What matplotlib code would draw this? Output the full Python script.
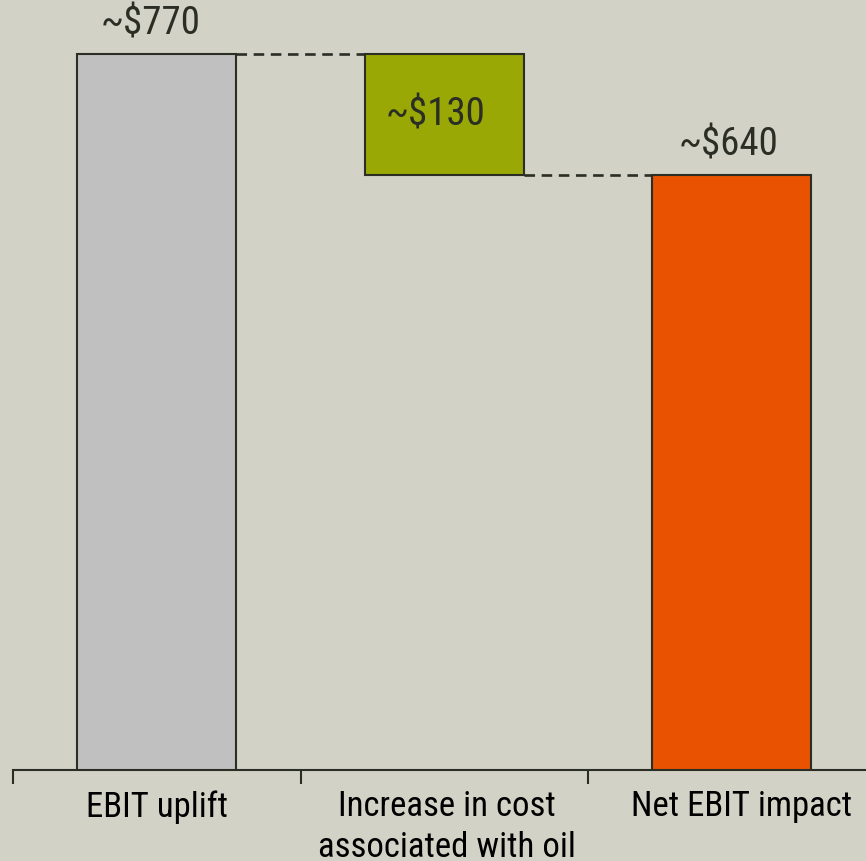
import matplotlib
matplotlib.use("Agg")
import matplotlib.pyplot as plt
import numpy as np

categories = ["EBIT uplift", "Increase in cost\nassociated with oil", "Net EBIT impact"]
values = [770, -130, 640]
value_labels = ["~$770", "~$130", "~$640"]
bar_colors = ["#c0c0c0", "#99a805", "#e85200"]

bg = "#d2d2c6"
dark = "#2b2e24"

plt.rcParams["font.family"] = ["Roboto Condensed", "DejaVu Sans"]

fig = plt.figure(figsize=(8.66, 8.62), dpi=100, facecolor=bg)
ax = fig.add_axes([13 / 866, 91 / 862, 862.5 / 866, 744 / 862])
ax.set_facecolor(bg)

# waterfall: first and last bars start at zero, the middle one hangs from the first
x = np.arange(len(categories))
bottoms = [0, values[0] + values[1], 0]
heights = [values[0], -values[1], values[2]]
width = 0.553
ax.bar(x, heights, width, bottom=bottoms, color=bar_colors,
       edgecolor=dark, linewidth=1.5, zorder=3)

# dashed connectors between bar tops
ax.plot([x[0] + width / 2, x[1] - width / 2], [values[0], values[0]],
        ls=(0, (4, 2.5)), color=dark, lw=1.9, zorder=2)
ax.plot([x[1] + width / 2, x[2] - width / 2], [values[2], values[2]],
        ls=(0, (4, 2.5)), color=dark, lw=1.9, zorder=2)

# value labels
lbl = dict(fontsize=28, color=dark)
ax.text(x[0] - 0.02, values[0] + 13, value_labels[0], ha="center", va="bottom", **lbl)
ax.text(x[1] - 0.03, bottoms[1] + heights[1] / 2, value_labels[1], ha="center",
        va="center", **lbl)
ax.text(x[2] - 0.01, values[2] + 13, value_labels[2], ha="center", va="bottom", **lbl)

ax.set_xlim(-0.5, 2.5)
ax.set_ylim(0, 800)

for s in ["top", "right", "left"]:
    ax.spines[s].set_visible(False)
ax.spines["bottom"].set_color(dark)
ax.spines["bottom"].set_linewidth(1.5)
ax.set_yticks([])

# tick marks at category boundaries, labels at centres
ax.set_xticks([-0.5, 0.5, 1.5, 2.5])
ax.set_xticklabels([])
ax.tick_params(axis="x", which="major", direction="out", length=10,
               width=1.5, color=dark)
ax.set_xticks(x + np.array([0, 0.01, 0.035]), minor=True)
ax.set_xticklabels(categories, minor=True, fontsize=25, color="black",
                   linespacing=1.3)
ax.tick_params(axis="x", which="minor", length=0, pad=14)

fig.savefig("out.png", dpi=100, facecolor=bg)
